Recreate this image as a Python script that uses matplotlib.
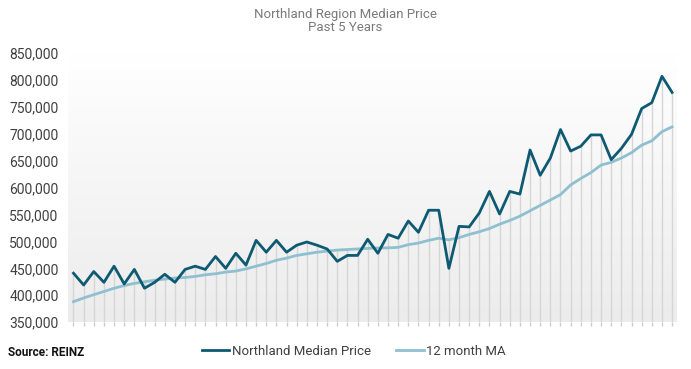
import numpy as np
import matplotlib
matplotlib.use("Agg")
import matplotlib.pyplot as plt
from matplotlib.ticker import FuncFormatter

# monthly values, oldest first
median_price = [
    441000, 419000, 444000, 424000, 454000, 421000, 448000, 413000, 424000, 439000,
    424000, 448000, 454000, 448000, 472000, 450000, 478000, 456000, 502000, 480000,
    502000, 480000, 493000, 499000, 493000, 486000, 463000, 474000, 474000, 504000,
    478000, 513000, 506000, 538000, 517000, 558000, 558000, 450000, 528000, 527000,
    553000, 593000, 551000, 593000, 588000, 670000, 623000, 655000, 708000, 668000,
    677000, 698000, 698000, 652000, 673000, 699000, 747000, 758000, 807000, 777000,
]
moving_avg = [
    388000, 395000, 401000, 407000, 413000, 418000, 422000, 425000, 428000, 430000,
    432000, 433000, 435000, 438000, 440000, 443000, 445000, 449000, 454000, 459000,
    465000, 469000, 474000, 477000, 480000, 482000, 484000, 485000, 486000, 487000,
    488000, 488000, 489000, 494000, 497000, 502000, 506000, 503000, 507000, 513000,
    518000, 524000, 532000, 539000, 547000, 557000, 567000, 577000, 587000, 605000,
    617000, 628000, 642000, 647000, 655000, 665000, 679000, 687000, 704000, 713000,
]
y_ticks = [350000, 400000, 450000, 500000, 550000, 600000, 650000, 700000, 750000, 800000, 850000]

dark = "#0e5a72"
light = "#8fc0d0"

fig = plt.figure(figsize=(6.91, 3.69), dpi=100)
ax = fig.add_axes([0.099, 0.127, 0.881, 0.729])

x = np.arange(len(median_price))
ymin, ymax = 350000, 850000
ax.set_xlim(-0.5, len(x) - 0.5)
ax.set_ylim(ymin, ymax)

# soft grey gradient behind the plot
grad = np.linspace(0, 1, 256).reshape(-1, 1)
ax.imshow(grad, extent=[-0.5, len(x) - 0.5, ymin, ymax], aspect="auto",
          cmap=matplotlib.colors.LinearSegmentedColormap.from_list("g", ["#ececec", "#ffffff"]),
          origin="lower", zorder=0)

# drop lines from each month
tops = np.maximum(median_price, moving_avg)
ax.vlines(x, ymin, tops, color="#d6d6d6", linewidth=1, zorder=1)

ax.plot(x, moving_avg, color=light, linewidth=2.0, zorder=3, label="12 month MA")
ax.plot(x, median_price, color=dark, linewidth=2.0, zorder=4, label="Northland Median Price")

for s in ax.spines.values():
    s.set_visible(False)

ax.set_yticks(y_ticks)
ax.yaxis.set_major_formatter(FuncFormatter(lambda v, p: f"{int(v):,}"))
ax.tick_params(axis="y", length=0, pad=7, labelsize=10, labelcolor="#404040")
ax.set_xticks(x)
ax.set_xticklabels([])
ax.tick_params(axis="x", length=3, color="#cccccc", width=1)
for lbl in ax.get_yticklabels():
    lbl.set_fontfamily("Roboto")

fig.text(0.5, 0.962, "Northland Region Median Price", ha="center", va="center",
         fontsize=9.5, color="#7a7a7a", family="Roboto")
fig.text(0.5, 0.925, "Past 5 Years", ha="center", va="center",
         fontsize=9.5, color="#7a7a7a", family="Roboto")

h, l = ax.get_legend_handles_labels()
fig.legend(h[::-1], l[::-1], loc="center", bbox_to_anchor=(0.512, 0.048), ncol=2,
           frameon=False, handlelength=2.1, handletextpad=0.2,
           columnspacing=1.9, prop={"family": "Roboto", "size": 9.5})
for t in fig.legends[0].get_texts():
    t.set_color("#404040")

fig.text(0.012, 0.045, "Source: REINZ", ha="left", va="center",
         fontsize=8.5, fontweight="bold", color="#111111", family="Roboto")

fig.savefig("out.png", dpi=100)
